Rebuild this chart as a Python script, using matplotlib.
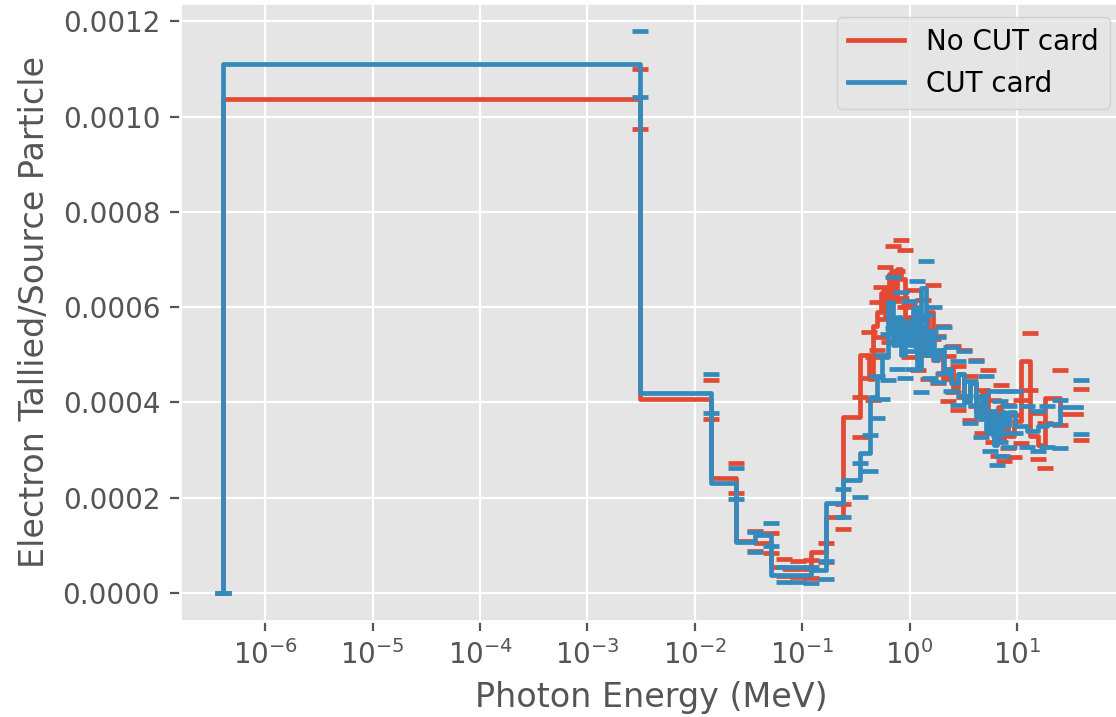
# 光子エネルギーごとの電子タリー（CUTカードあり／なし）を比較するグラフ
import matplotlib
matplotlib.use("Agg")
import matplotlib.pyplot as plt

plt.style.use("ggplot")

# --- No CUT card のデータ（エネルギー MeV, タリー値, 誤差） ---
energy_nocut = [4e-7, 3.1e-3, 0.0141, 0.0241, 0.0362, 0.051, 0.0675, 0.091, 0.12, 0.165,
                0.239, 0.343, 0.417, 0.454, 0.495, 0.540, 0.588, 0.640, 0.698, 0.760,
                0.828, 0.902, 0.984, 1.07, 1.19, 1.33, 1.48, 1.64, 1.83, 2.04,
                2.27, 2.52, 2.81, 3.20, 3.64, 4.13, 4.70, 5.35, 5.96, 6.62,
                7.06, 7.53, 8.21, 9.33, 10.8, 13.2, 15.6, 18.2, 25.1, 39.3]
tally_nocut = [0.0, 1.037e-3, 4.07e-4, 2.41e-4, 1.08e-4, 1.05e-4, 5.4e-5, 5.0e-5, 5.0e-5, 8.5e-5,
               1.6e-4, 3.7e-4, 5.0e-4, 4.5e-4, 5.6e-4, 5.9e-4, 6.3e-4, 5.8e-4, 6.7e-4, 6.2e-4,
               6.8e-4, 6.6e-4, 5.5e-4, 5.8e-4, 5.2e-4, 5.6e-4, 5.0e-4, 5.9e-4, 4.9e-4, 5.1e-4,
               4.5e-4, 4.7e-4, 4.3e-4, 4.6e-4, 4.1e-4, 4.4e-4, 3.8e-4, 4.2e-4, 3.6e-4, 3.3e-4,
               3.9e-4, 3.2e-4, 3.5e-4, 3.3e-4, 3.6e-4, 4.86e-4, 3.3e-4, 3.1e-4, 4.1e-4, 3.75e-4]
err_nocut = [0.0, 6.3e-5, 4.1e-5, 3.2e-5, 2.1e-5, 2.1e-5, 1.8e-5, 1.7e-5, 1.8e-5, 2.0e-5,
             2.6e-5, 4.2e-5, 4.8e-5, 4.6e-5, 5.0e-5, 5.2e-5, 5.5e-5, 5.3e-5, 5.8e-5, 5.6e-5,
             6.0e-5, 6.0e-5, 5.4e-5, 5.5e-5, 5.2e-5, 5.4e-5, 5.1e-5, 5.6e-5, 5.0e-5, 5.1e-5,
             4.8e-5, 4.9e-5, 4.7e-5, 4.9e-5, 4.6e-5, 4.8e-5, 4.5e-5, 4.7e-5, 4.4e-5, 4.3e-5,
             4.6e-5, 4.3e-5, 4.5e-5, 4.4e-5, 4.6e-5, 6.0e-5, 4.8e-5, 4.7e-5, 5.8e-5, 5.3e-5]

# --- CUT card のデータ ---
energy_cut = [4e-7, 3.1e-3, 0.0141, 0.0241, 0.0362, 0.051, 0.0675, 0.091, 0.12, 0.165,
              0.239, 0.343, 0.426, 0.495, 0.55, 0.626, 0.698, 0.76, 0.828, 0.902,
              0.984, 1.07, 1.17, 1.28, 1.42, 1.55, 1.70, 1.83, 2.08, 2.41,
              2.81, 3.20, 3.64, 4.13, 4.6, 5.13, 5.55, 6.05, 6.45, 6.9,
              7.3, 7.8, 8.5, 9.6, 12.5, 15.6, 19.0, 25.1, 39.3]
tally_cut = [0.0, 1.111e-3, 4.19e-4, 2.30e-4, 1.07e-4, 1.22e-4, 3.8e-5, 3.8e-5, 3.8e-5, 4.8e-5,
             1.89e-4, 2.37e-4, 2.94e-4, 4.12e-4, 4.54e-4, 4.96e-4, 6.1e-4, 5.2e-4, 5.8e-4, 5.0e-4,
             5.6e-4, 5.2e-4, 6.0e-4, 4.7e-4, 6.4e-4, 5.0e-4, 5.5e-4, 4.9e-4, 5.1e-4, 4.7e-4,
             4.4e-4, 4.6e-4, 4.0e-4, 4.4e-4, 3.7e-4, 4.1e-4, 3.4e-4, 3.8e-4, 3.1e-4, 3.6e-4,
             3.3e-4, 3.8e-4, 3.5e-4, 3.8e-4, 3.5e-4, 3.4e-4, 3.5e-4, 3.55e-4, 3.9e-4]
err_cut = [0.0, 6.9e-5, 4.1e-5, 3.2e-5, 2.1e-5, 2.4e-5, 1.6e-5, 1.6e-5, 1.7e-5, 1.9e-5,
           2.9e-5, 3.6e-5, 3.8e-5, 4.4e-5, 4.6e-5, 4.8e-5, 5.4e-5, 5.0e-5, 5.2e-5, 4.9e-5,
           5.2e-5, 5.0e-5, 5.4e-5, 4.8e-5, 5.6e-5, 4.9e-5, 5.1e-5, 4.8e-5, 4.9e-5, 4.7e-5,
           4.6e-5, 4.7e-5, 4.4e-5, 4.6e-5, 4.3e-5, 4.5e-5, 4.2e-5, 4.4e-5, 4.1e-5, 4.3e-5,
           4.2e-5, 4.4e-5, 4.3e-5, 4.4e-5, 4.3e-5, 4.2e-5, 4.3e-5, 5.0e-5, 5.6e-5]

fig = plt.figure(figsize=(5.58, 3.585), dpi=200)
ax = fig.add_axes([0.161, 0.134, 0.846, 0.862])

series = [
    (energy_nocut, tally_nocut, err_nocut, "No CUT card", "#E24A33"),
    (energy_cut, tally_cut, err_cut, "CUT card", "#348ABD"),
]
for e, t, err, name, col in series:
    # 階段状の線
    ax.step(e, t, where="pre", color=col, lw=1.7, label=name)
    # 誤差はキャップだけ表示（縦線なし）
    ax.errorbar(e, t, yerr=err, fmt="none", ecolor=col, elinewidth=0,
                capsize=3, capthick=1.7)

ax.set_xscale("log")
ax.minorticks_off()
ax.set_xlabel("Photon Energy (MeV)")
ax.set_ylabel("Electron Tallied/Source Particle")
ax.legend(loc="upper right")

fig.savefig("out.png", dpi=200)
